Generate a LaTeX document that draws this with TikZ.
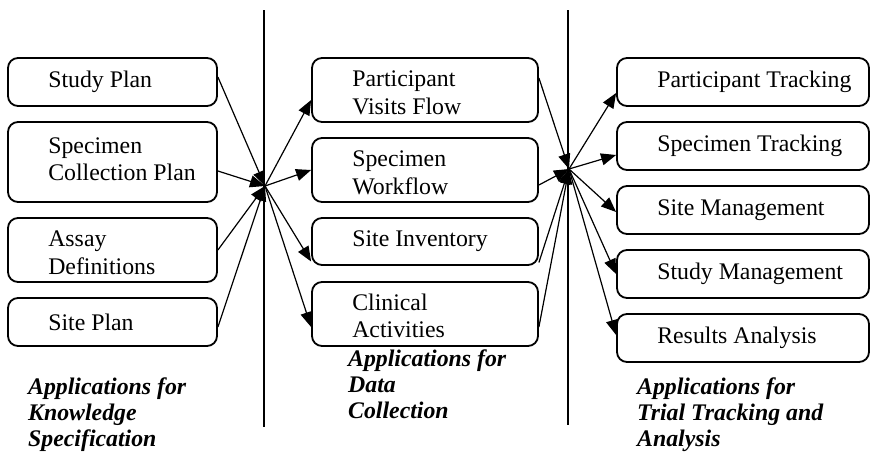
\documentclass[tikz,border=0pt]{standalone}
\usepackage{fontspec}
\setmainfont{Liberation Serif}
\usetikzlibrary{arrows.meta}

\begin{document}
\begin{tikzpicture}[x=1pt, y=-1pt,
  box/.style={draw, line width=1.8pt, rounded corners=10pt, inner sep=0pt},
  txt/.style={anchor=west, align=left, inner sep=0pt,
              font=\fontsize{23.8}{27.5}\selectfont},
  arr/.style={-{Triangle[length=15pt, width=12pt]}, line width=1.2pt},
  divider/.style={line width=1.2pt},
  phase/.style={anchor=north west, align=left, inner sep=0pt,
                font=\fontsize{23.8}{26}\selectfont\bfseries\itshape},
]
\useasboundingbox (0,0) rectangle (871,453);

% ---- Dividers ----
\coordinate (divA-top) at (264,10);
\coordinate (divA-bot) at (264,427);
\coordinate (divB-top) at (568,10);
\coordinate (divB-bot) at (568,425);
\draw[divider] (divA-top) -- (divA-bot);
\draw[divider] (divB-top) -- (divB-bot);

% ---- Knowledge specification ----
\node[box, minimum width=209pt, minimum height=48pt] (splan) at (112.5,82) {};
\node[txt] (splan-t) at ([xshift=41pt]splan.west) {Study Plan};

\node[box, minimum width=209pt, minimum height=80pt] (scplan) at (112.5,162) {};
\node[txt] (scplan-t) at ([xshift=41pt, yshift=3pt]scplan.west) {Specimen\\Collection Plan};

\node[box, minimum width=209pt, minimum height=64pt] (assay) at (112.5,250) {};
\node[txt] (assay-t) at ([xshift=41pt, yshift=-3pt]assay.west) {Assay\\Definitions};

\node[box, minimum width=209pt, minimum height=48pt] (siteplan) at (112.5,322) {};
\node[txt] (siteplan-t) at ([xshift=41pt]siteplan.west) {Site Plan};

\node[phase] (cap-know) at (28,378) {Applications for\\Knowledge\\Specification};

% ---- Data collection ----
\node[box, minimum width=226pt, minimum height=64pt] (pvflow) at (425,90) {};
\node[txt] (pvflow-t) at ([xshift=41pt, yshift=-3pt]pvflow.west) {Participant\\Visits Flow};

\node[box, minimum width=226pt, minimum height=64pt] (swflow) at (425,170) {};
\node[txt] (swflow-t) at ([xshift=41pt, yshift=-3pt]swflow.west) {Specimen\\Workflow};

\node[box, minimum width=226pt, minimum height=47pt] (sinv) at (425,241.5) {};
\node[txt] (sinv-t) at ([xshift=41pt]sinv.west) {Site Inventory};

\node[box, minimum width=226pt, minimum height=64pt] (clin) at (425,314) {};
\node[txt] (clin-t) at ([xshift=41pt, yshift=-2pt]clin.west) {Clinical\\Activities};

\node[phase] (cap-data) at (348,350) {Applications for\\Data\\Collection};

% ---- Trial tracking and analysis ----
\node[box, minimum width=252pt, minimum height=48pt] (ptrack) at (743,82) {};
\node[txt] (ptrack-t) at ([xshift=41pt]ptrack.west) {Participant Tracking};

\node[box, minimum width=252pt, minimum height=48pt] (strack) at (743,146) {};
\node[txt] (strack-t) at ([xshift=41pt]strack.west) {Specimen Tracking};

\node[box, minimum width=252pt, minimum height=48pt] (sitemgmt) at (743,210) {};
\node[txt] (sitemgmt-t) at ([xshift=41pt]sitemgmt.west) {Site Management};

\node[box, minimum width=252pt, minimum height=48pt] (studymgmt) at (743,274) {};
\node[txt] (studymgmt-t) at ([xshift=41pt]studymgmt.west) {Study Management};

\node[box, minimum width=252pt, minimum height=48pt] (results) at (743,338) {};
\node[txt] (results-t) at ([xshift=41pt]results.west) {Results Analysis};

\node[phase] (cap-trial) at (637,378) {Applications for\\Trial Tracking and\\Analysis};

% ---- Hubs ----
\coordinate (hubA) at (265,186);
\coordinate (hubB) at (569,169);

\draw[arr] ([yshift=5pt]splan.east) -- (hubA);
\draw[arr] ([yshift=-9pt]scplan.east) -- (hubA);
\draw[arr] (assay.east) -- (hubA);
\draw[arr] ([yshift=-5pt]siteplan.east) -- (hubA);

\draw[arr] (hubA) -- ([yshift=-10pt]pvflow.west);
\draw[arr] (hubA) -- (swflow.west);
\draw[arr] (hubA) -- ([yshift=-20pt]sinv.west);
\draw[arr] (hubA) -- ([yshift=-13pt]clin.west);

\draw[arr] ([yshift=12pt]pvflow.east) -- (hubB);
\draw[arr] ([yshift=-15pt]swflow.east) -- (hubB);
\draw[arr] ([yshift=-21pt]sinv.east) -- (hubB);
\draw[arr] ([yshift=-13pt]clin.east) -- (hubB);

\draw[arr] (hubB) -- ([yshift=-11pt]ptrack.west);
\draw[arr] (hubB) -- ([yshift=-9pt]strack.west);
\draw[arr] (hubB) -- ([yshift=-2pt]sitemgmt.west);
\draw[arr] (hubB) -- (studymgmt.west);
\draw[arr] (hubB) -- ([yshift=3pt]results.west);

\end{tikzpicture}
\end{document}
